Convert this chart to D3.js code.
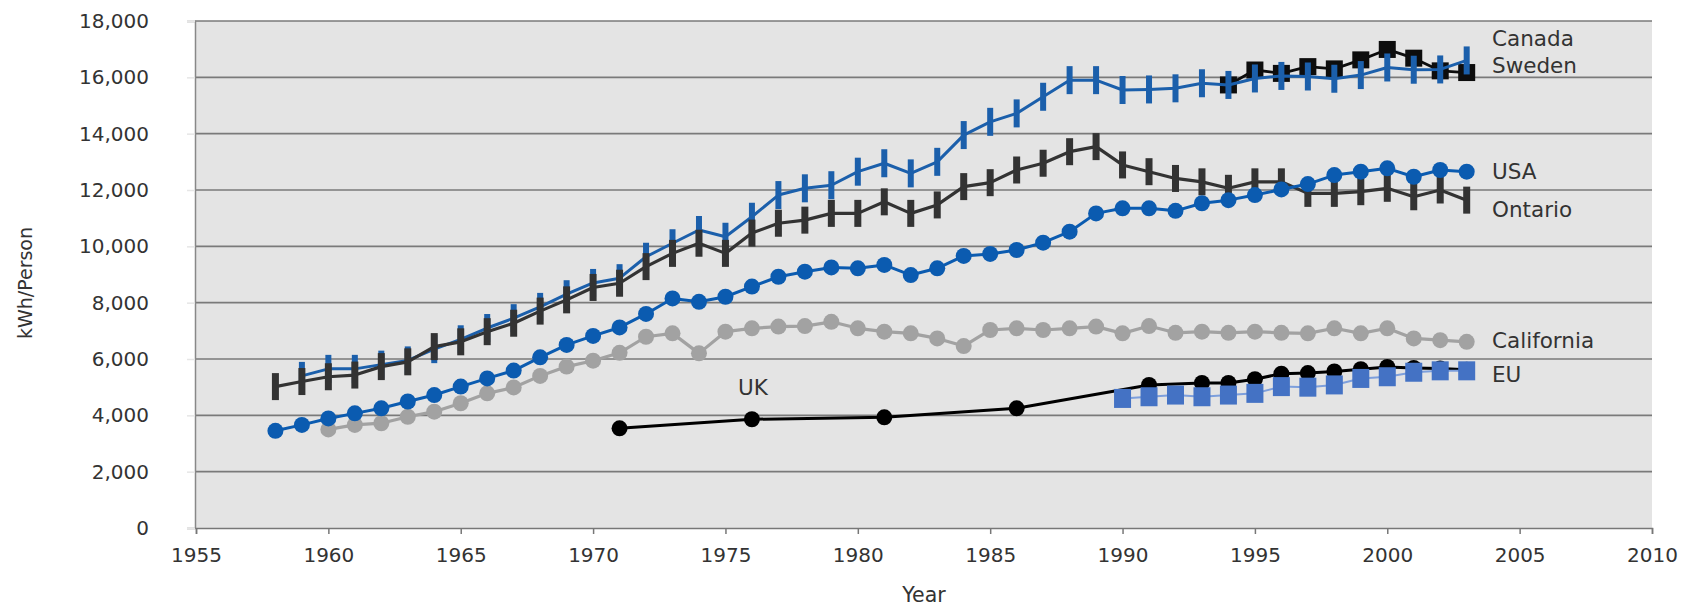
<!DOCTYPE html>
<html>
<head>
<meta charset="utf-8">
<script src="https://cdn.jsdelivr.net/npm/d3@7"></script>
<style>
  html, body { margin: 0; padding: 0; background: #fff; }
  svg { display: block; font-family: "DejaVu Sans", "Open Sans", sans-serif; }
</style>
</head>
<body>
<svg id="chart" width="1690" height="607"></svg>
<script>
// Electricity consumption per person, kWh
const yTicks = [0, 2000, 4000, 6000, 8000, 10000, 12000, 14000, 16000, 18000];
const xTicks = [1955, 1960, 1965, 1970, 1975, 1980, 1985, 1990, 1995, 2000, 2005, 2010];

const canadaYears = d3.range(1959, 2004);
const canadaValues = [5400, 5650, 5650, 5800, 5950, 6350, 6700, 7100, 7450, 7850,
  8300, 8700, 8870, 9630, 10110, 10580, 10340, 11050, 11820, 12060,
  12170, 12650, 12950, 12590, 13000, 13950, 14420, 14720, 15310, 15900,
  15900, 15550, 15570, 15610, 15790, 15730, 15960, 16050, 16030, 15950,
  16080, 16350, 16270, 16280, 16600];

const ontarioYears = d3.range(1958, 2004);
const ontarioValues = [5020, 5200, 5370, 5430, 5730, 5900, 6440, 6610, 6970, 7270,
  7700, 8100, 8540, 8690, 9280, 9750, 10110, 9750, 10470, 10820,
  10930, 11170, 11170, 11580, 11170, 11470, 12120, 12260, 12710, 12950,
  13360, 13540, 12890, 12650, 12410, 12290, 12060, 12290, 12290, 11880,
  11880, 11940, 12060, 11760, 12000, 11640];

const usaYears = d3.range(1958, 2004);
const usaValues = [3450, 3660, 3890, 4070, 4250, 4490, 4720, 5020, 5310, 5590,
  6060, 6500, 6820, 7120, 7600, 8150, 8030, 8210, 8570, 8920,
  9100, 9250, 9220, 9340, 8980, 9220, 9660, 9730, 9870, 10130,
  10520, 11170, 11350, 11350, 11260, 11530, 11640, 11820, 12020, 12210,
  12530, 12650, 12770, 12470, 12710, 12650];

const californiaYears = d3.range(1960, 2004);
const californiaValues = [3500, 3660, 3720, 3950, 4130, 4430, 4780, 4990, 5400, 5730,
  5940, 6220, 6790, 6910, 6200, 6970, 7090, 7150, 7170, 7320,
  7090, 6970, 6910, 6730, 6460, 7030, 7090, 7030, 7090, 7150,
  6910, 7170, 6930, 6970, 6930, 6970, 6930, 6910, 7090, 6910,
  7090, 6730, 6670, 6610];

const swedenYears = d3.range(1994, 2004);
const swedenValues = [15730, 16260, 16140, 16380, 16300, 16620, 16990, 16680, 16230, 16170];

const ukYears = [1971, 1976, 1981, 1986, 1991, 1993, 1994, 1995, 1996, 1997, 1998, 1999, 2000, 2001, 2002, 2003];
const ukValues = [3540, 3860, 3930, 4250, 5080, 5150, 5150, 5280, 5480, 5500, 5560, 5640, 5720, 5680, 5660, 5620];

const euYears = d3.range(1990, 2004);
const euValues = [4600, 4660, 4720, 4660, 4720, 4780, 5020, 5000, 5080, 5310, 5370, 5530, 5580, 5580];

const zip = (years, values) => years.map((yr, i) => ({ year: yr, value: values[i] }));

const svg = d3.select("#chart");
const plotLeft = 196, plotRight = 1652, plotTop = 21, plotBottom = 528;

const x = d3.scaleLinear().domain([1955, 2010]).range([plotLeft, plotRight]);
const y = d3.scaleLinear().domain([0, 18000]).range([plotBottom, plotTop]);

// plot background
svg.append("rect")
  .attr("x", plotLeft - 1).attr("y", plotTop)
  .attr("width", plotRight - plotLeft + 1).attr("height", plotBottom - plotTop)
  .attr("fill", "#e4e4e4");

// horizontal gridlines
svg.append("g")
  .selectAll("line")
  .data(yTicks.filter(d => d > 0))
  .join("line")
  .attr("x1", plotLeft - 1).attr("x2", plotRight)
  .attr("y1", d => y(d)).attr("y2", d => y(d))
  .attr("stroke", "#7a7a7a")
  .attr("stroke-width", 1.7);

// y axis
const yAxis = svg.append("g")
  .attr("transform", `translate(${plotLeft - 1},0)`)
  .call(d3.axisLeft(y).tickValues(yTicks).tickFormat(d3.format(",")).tickSize(8).tickPadding(38));
yAxis.select(".domain").attr("stroke", "#888").attr("stroke-width", 1.5);
yAxis.selectAll(".tick line").attr("stroke", "#e6e6e6").attr("stroke-width", 1.5);
yAxis.selectAll(".tick text").attr("font-size", 20).attr("fill", "#333")
  .attr("font-family", "'DejaVu Sans', sans-serif");

// x axis
const xAxis = svg.append("g")
  .attr("transform", `translate(0,${plotBottom})`)
  .call(d3.axisBottom(x).tickValues(xTicks).tickFormat(d3.format("d")).tickSize(6).tickPadding(14));
xAxis.select(".domain").attr("stroke", "#777").attr("stroke-width", 1.5);
xAxis.selectAll(".tick line").attr("stroke", "#777").attr("stroke-width", 1.5);
xAxis.selectAll(".tick text").attr("font-size", 20).attr("fill", "#333")
  .attr("font-family", "'DejaVu Sans', sans-serif");

// axis titles
svg.append("text")
  .attr("transform", "translate(32,283) rotate(-90)")
  .attr("text-anchor", "middle")
  .attr("font-size", 19).attr("fill", "#333")
  .text("kWh/Person");
svg.append("text")
  .attr("x", (plotLeft + plotRight) / 2).attr("y", 602)
  .attr("text-anchor", "middle")
  .attr("font-size", 20.5).attr("fill", "#333")
  .text("Year");

const line = d3.line().x(d => x(d.year)).y(d => y(d.value));

function drawSeries(data, opts) {
  const g = svg.append("g");
  g.append("path")
    .datum(data)
    .attr("d", line)
    .attr("fill", "none")
    .attr("stroke", opts.lineColor || opts.color)
    .attr("stroke-width", opts.lineWidth)
    .attr("stroke-linejoin", "round");
  const m = g.selectAll(".m").data(data).join(opts.shape === "circle" ? "circle" : "rect");
  if (opts.shape === "circle") {
    m.attr("cx", d => x(d.year)).attr("cy", d => y(d.value)).attr("r", opts.r);
  } else {
    m.attr("x", d => x(d.year) - opts.w / 2).attr("y", d => y(d.value) - opts.h / 2)
      .attr("width", opts.w).attr("height", opts.h);
  }
  m.attr("fill", opts.color);
}

drawSeries(zip(californiaYears, californiaValues), { color: "#a2a2a2", lineWidth: 3.2, shape: "circle", r: 8 });
drawSeries(zip(swedenYears, swedenValues), { color: "#0d0d0d", lineWidth: 2.8, shape: "rect", w: 17, h: 17 });
drawSeries(zip(canadaYears, canadaValues), { color: "#1b5fab", lineWidth: 3, shape: "rect", w: 6, h: 28 });
drawSeries(zip(ontarioYears, ontarioValues), { color: "#333333", lineWidth: 3.2, shape: "rect", w: 7, h: 27 });
drawSeries(zip(usaYears, usaValues), { color: "#0b5bb0", lineWidth: 3, shape: "circle", r: 8 });
drawSeries(zip(ukYears, ukValues), { color: "#000000", lineWidth: 3, shape: "circle", r: 8 });
drawSeries(zip(euYears, euValues), { color: "#4472c4", lineColor: "#7d9fdc", lineWidth: 2, shape: "rect", w: 17, h: 19 });

// series labels
const labels = [
  { text: "Canada", x: 1492, y: 46 },
  { text: "Sweden", x: 1492, y: 73 },
  { text: "USA", x: 1492, y: 179 },
  { text: "Ontario", x: 1492, y: 217 },
  { text: "California", x: 1492, y: 348 },
  { text: "EU", x: 1492, y: 382 },
  { text: "UK", x: 753, y: 395, anchor: "middle" }
];
svg.append("g")
  .selectAll("text")
  .data(labels)
  .join("text")
  .attr("x", d => d.x).attr("y", d => d.y)
  .attr("text-anchor", d => d.anchor || "start")
  .attr("font-size", 21.5).attr("fill", "#333")
  .text(d => d.text);
</script>
</body>
</html>
